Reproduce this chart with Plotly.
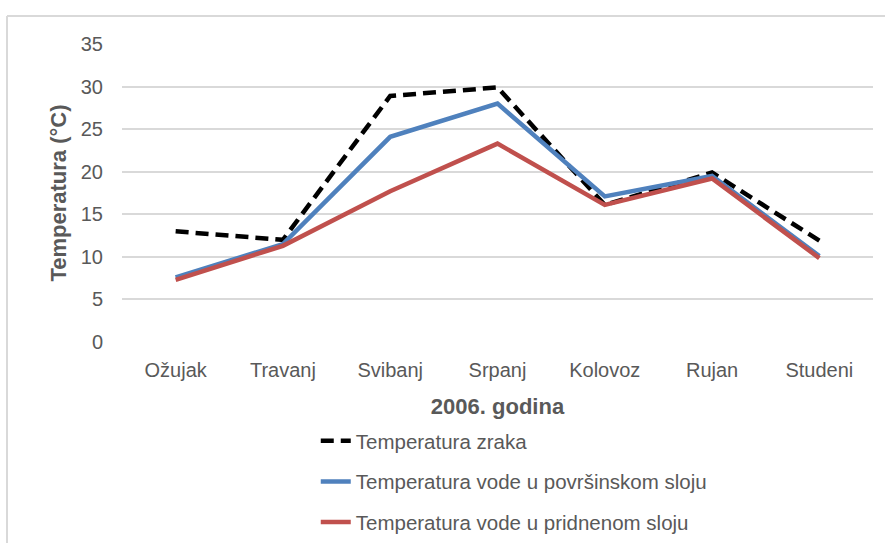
import plotly.graph_objects as go

months = ["Ožujak", "Travanj", "Svibanj", "Srpanj", "Kolovoz", "Rujan", "Studeni"]
air_temp = [13.0, 12.0, 28.9, 29.9, 16.1, 19.9, 11.9]
surface_temp = [7.6, 11.5, 24.1, 28.0, 17.1, 19.5, 10.1]
bottom_temp = [7.3, 11.3, 17.7, 23.3, 16.1, 19.2, 9.85]
series_names = ["Temperatura zraka",
                "Temperatura vode u površinskom sloju",
                "Temperatura vode u pridnenom sloju"]
y_ticks = [0, 5, 10, 15, 20, 25, 30, 35]

FONT = "Liberation Sans, Arial, sans-serif"
GRAY = "#595959"

fig = go.Figure()
fig.add_trace(go.Scatter(x=months, y=air_temp, mode="lines", name=series_names[0],
                         line=dict(color="#000000", width=4.5, dash="13px,7px"),
                         legendgroup="a"))
fig.add_trace(go.Scatter(x=months, y=surface_temp, mode="lines", name=series_names[1],
                         line=dict(color="#4F81BD", width=4.5),
                         legendgroup="b"))
fig.add_trace(go.Scatter(x=months, y=bottom_temp, mode="lines", name=series_names[2],
                         line=dict(color="#C0504D", width=4.5),
                         legendgroup="c"))

# outer chart border (left and top edges, as in the cropped reference)
border = dict(type="line", xref="paper", yref="paper",
              line=dict(color="#D9D9D9", width=2))
fig.add_shape(x0=-0.1531, x1=-0.1531, y0=-0.7, y1=1.094, **border)
fig.add_shape(x0=-0.1531, x1=1.02, y0=1.094, y1=1.094, **border)

fig.update_layout(
    width=885, height=543,
    margin=dict(l=122, r=12, t=44, b=201, autoexpand=False),
    paper_bgcolor="white", plot_bgcolor="white",
    font=dict(family=FONT, color=GRAY, size=20),
    showlegend=True,
    legend=dict(x=0.258, y=-0.265, xanchor="left", yanchor="top",
                orientation="v", traceorder="grouped", tracegroupgap=11,
                font=dict(size=20.5, color=GRAY), bgcolor="rgba(0,0,0,0)"),
    xaxis=dict(range=[-0.5, 6.5], showgrid=False, showline=False, zeroline=False,
               ticks="", automargin=False,
               tickfont=dict(size=20, color=GRAY), ticklabelstandoff=14,
               title=dict(text="<b>2006. godina</b>", font=dict(size=22, color=GRAY), standoff=18)),
    yaxis=dict(range=[0, 35], tickvals=y_ticks, showgrid=True, gridcolor="#D9D9D9",
               gridwidth=1.5, zeroline=False, showline=False, ticks="", automargin=False,
               tickfont=dict(size=20, color=GRAY), ticklabelstandoff=18,
               title=dict(text="<b>Temperatura (°C)</b>", font=dict(size=22, color=GRAY), standoff=8)),
)

fig.write_html("out.html", config={"displayModeBar": False},
               post_script="document.body.style.margin='0';")
